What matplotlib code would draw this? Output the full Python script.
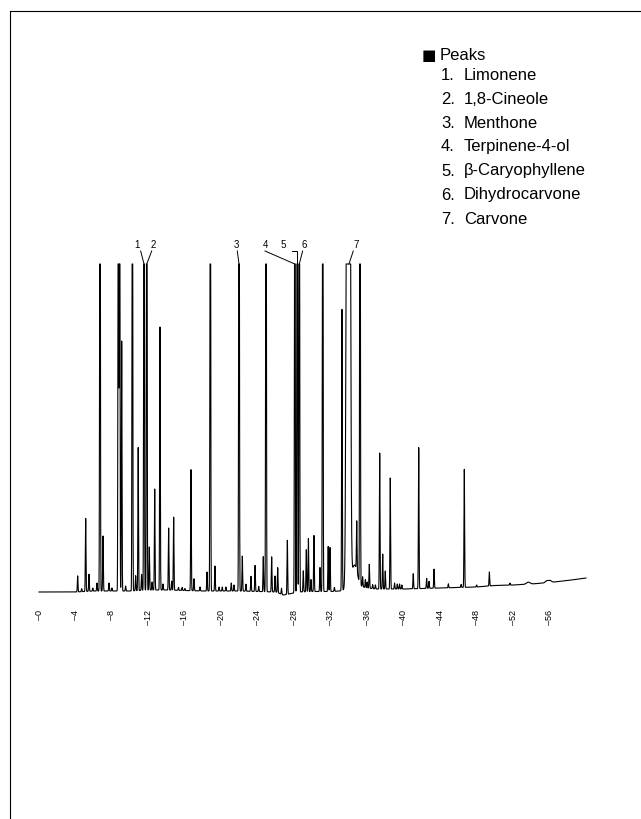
import numpy as np
import matplotlib.pyplot as plt
from matplotlib.lines import Line2D

plt.rcParams["font.family"] = ["Liberation Sans", "DejaVu Sans"]

# peaks: retention time (min), height, width (min)
peak_rt = [4.24, 4.68, 5.12, 5.48, 5.90, 6.36, 6.69, 7.02, 7.68, 8.00,
           8.70, 8.84, 9.07, 9.50, 10.24, 10.60, 10.88, 11.25, 11.52, 11.82,
           12.10, 12.40, 12.69, 13.27, 13.60, 14.22, 14.55, 14.77, 15.30, 15.70,
           16.00, 16.67, 17.00, 17.66, 18.43, 18.79, 19.30, 19.75, 20.10, 20.50,
           21.09, 21.39, 21.94, 22.30, 22.70, 23.25, 23.70, 24.10, 24.60, 24.90,
           25.52, 25.89, 26.18, 26.60, 27.24, 28.06, 28.32, 28.55, 28.99, 29.32,
           29.55, 29.83, 30.16, 30.82, 31.12, 31.72, 31.92, 32.40, 33.23, 33.93,
           34.60, 34.85, 35.21, 35.50, 35.80, 36.00, 36.23, 36.60, 36.90, 37.37,
           37.70, 37.98, 38.53, 39.00, 39.30, 39.55, 39.80, 41.05, 41.65, 42.52,
           42.78, 43.33, 44.90, 46.30, 46.65, 48.00, 49.40, 51.66, 53.67, 55.70,
           56.05]
peak_height = [16, 3, 73, 17, 3, 8, 800, 55, 8, 3,
               800, 700, 250, 5, 800, 15, 143, 16, 800, 800,
               43, 8, 101, 263, 6, 62, 9, 73, 3, 3,
               2, 121, 12, 4, 19, 800, 25, 4, 4, 4,
               8, 6, 800, 35, 7, 15, 26, 5, 35, 800,
               35, 16, 25, 6, 54, 800, 800, 800, 21, 42,
               53, 12, 56, 24, 800, 45, 44, 4, 281, 2400,
               22, 50, 800, 10, 8, 6, 24, 4, 4, 136,
               35, 18, 111, 6, 5, 5, 4, 15, 141, 10,
               7, 19, 4, 3, 118, 2, 14, 2, 2, 2,
               2]
peak_width = [0.035] * 69 + [0.13, 0.30] + [0.035] * 27 + [0.2, 0.15, 0.15]

# slow baseline drift
baseline_t = [0, 4, 6, 8, 10, 12, 14, 16, 18, 20, 22, 24, 26, 26.8, 27.4,
              28.5, 30, 32, 33, 35, 36, 37, 38, 40, 42, 44, 46, 48, 50, 52,
              54, 56, 58, 60]
baseline_v = [0, 0, 1, 1, 1, 2, 2, 1.5, 1, 1, 1, 0.5, 0, -3, -2,
              0, 0.5, 0.5, 1, 6, 4, 3, 3, 3, 3.5, 4, 4.5, 5, 6.5, 7,
              8, 9.5, 11.5, 14]

tick_minutes = list(range(0, 57, 4))

peak_names = ["Limonene", "1,8-Cineole", "Menthone", "Terpinene-4-ol",
              "\u03b2-Caryophyllene", "Dihydrocarvone", "Carvone"]

CAP = 328  # detector trace is cut off at the top

W, H = 641, 820
fig = plt.figure(figsize=(W / 100, H / 100), dpi=100)
ax = fig.add_axes([39 / W, (H - 593) / H, 547 / W, CAP / H])

t = np.linspace(0, 60, 6001)
signal = np.interp(t, baseline_t, baseline_v)
for rt, h, s in zip(peak_rt, peak_height, peak_width):
    signal += h * np.exp(-0.5 * ((t - rt) / s) ** 2)
signal = np.minimum(signal, CAP)

ax.plot(t, signal, color="black", lw=0.8, clip_on=False)
ax.set_xlim(0, 60)
ax.set_ylim(0, CAP)
for sp in ax.spines.values():
    sp.set_visible(False)
ax.set_yticks([])
ax.set_xticks(tick_minutes)
ax.set_xticklabels(["\u2013" + str(m) for m in tick_minutes], rotation=90, fontsize=6.5)
ax.tick_params(axis="x", length=0, pad=12.5)

# peak labels with leader lines (label x, line x points, in minutes)
leaders = [
    ("1", 10.72, [11.15, 11.52]),
    ("2", 12.54, [12.36, 11.82]),
    ("3", 21.61, [21.75, 21.94]),
    ("4", 24.79, [24.79, 28.06]),
    ("5", 26.80, [27.78, 28.33, 28.33]),
    ("6", 29.07, [28.92, 28.55]),
    ("7", 34.77, [34.47, 34.00]),
]
for lab, tx, xs in leaders:
    ax.text(tx, 348, lab, fontsize=7, ha="center", va="center", clip_on=False)
    ys = [341] * (len(xs) - 1) + [CAP]
    ax.plot(xs, ys, color="black", lw=0.7, clip_on=False)

# legend block
fs = 12
fig.text(422 / W, 1 - 55 / H, "\u25a0", fontsize=11, family=["DejaVu Sans"],
         va="center", ha="left")
fig.text(440 / W, 1 - 55 / H, "Peaks", fontsize=fs, va="center", ha="left")
for i, name in enumerate(peak_names):
    y = 1 - (75 + 24 * i) / H
    fig.text(441 / W, y, f"{i + 1}.", fontsize=fs, va="center", ha="left")
    fig.text(464 / W, y, name, fontsize=fs, va="center", ha="left")

# page frame (top and left edges)
fig.add_artist(Line2D([10 / W, 1], [1 - 12 / H] * 2, color="black", lw=0.8,
                      transform=fig.transFigure))
fig.add_artist(Line2D([10 / W] * 2, [0, 1 - 12 / H], color="black", lw=0.8,
                      transform=fig.transFigure))

fig.savefig("out.png", dpi=100)
